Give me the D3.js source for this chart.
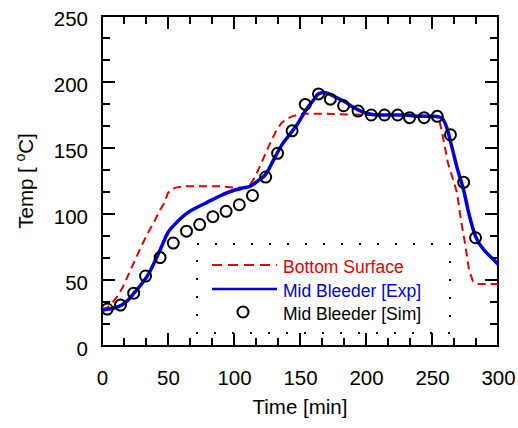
<!DOCTYPE html>
<html>
<head>
<meta charset="utf-8">
<script src="https://cdn.jsdelivr.net/npm/d3@7"></script>
<style>
	body { margin: 0; background: #fff; }
	svg text { font-family: "Liberation Sans", Arial, sans-serif; }
</style>
</head>
<body>
<div id="chart"></div>
<script>
// Bottom Surface (red dashed)
const bottomTime = [0, 4, 8, 12, 16, 20, 25, 30, 35, 40, 44, 47, 50, 53, 56, 62, 70, 80, 90, 100, 108, 112, 116, 120, 124, 128, 132, 136, 140, 144, 148, 152, 158, 170, 200, 230, 255, 258, 262, 266, 269, 272, 275, 278, 281, 285, 290, 300];
const bottomTemp = [28, 29, 33, 38, 45, 54, 65, 76, 86, 95, 103, 108, 116, 119, 120, 121, 121, 121, 121, 120, 120, 122, 128, 137, 146, 155, 163, 169, 172, 174, 175, 176, 176, 176, 175, 175, 174, 160, 139, 126, 116, 95, 78, 58, 49, 47, 47, 47];

// Mid Bleeder [Exp] (blue)
const expTime = [0, 5, 10, 15, 20, 25, 30, 35, 40, 45, 50, 55, 60, 65, 70, 80, 90, 100, 108, 112, 118, 124, 130, 136, 142, 148, 154, 160, 164, 168, 172, 178, 184, 190, 196, 202, 210, 220, 230, 240, 250, 257, 261, 265, 269, 274, 278, 283, 290, 295, 300];
const expTemp = [27, 28, 29, 31, 35, 41, 47, 54, 64, 75, 86, 92, 97, 101, 104, 109, 114, 118, 120, 121, 125, 130, 141, 152, 160, 168, 178, 186, 191, 192, 191, 188, 185, 181, 178, 176, 175, 175, 175, 174, 174, 173, 166, 151, 135, 118, 100, 83, 72, 67, 62];

// Mid Bleeder [Sim] (circles)
const simTime = [4, 14, 24, 33, 44, 54, 64, 74, 84, 94, 104, 114, 124, 133, 144, 154, 164, 173, 183, 194, 204, 214, 224, 233, 244, 254, 264, 274, 283];
const simTemp = [28, 31, 40, 53, 67, 78, 87, 92, 98, 102, 107, 114, 128, 146, 163, 183, 191, 187, 182, 178, 175, 175, 175, 173, 173, 174, 160, 124, 82];

const xTicks = [0, 50, 100, 150, 200, 250, 300];
const yTicks = [0, 50, 100, 150, 200, 250];

const legendLabels = ['Bottom Surface', 'Mid Bleeder [Exp]', 'Mid Bleeder [Sim]'];

const red = '#e60000';
const blue = '#0000dd';

const width = 518, height = 428;
const margin = {top: 16, right: 20, bottom: 82, left: 102};
const w = 498 - margin.left;
const h = 346 - margin.top;

const svg = d3.select('#chart').append('svg')
	.attr('width', width)
	.attr('height', height);

const g = svg.append('g')
	.attr('transform', 'translate(' + margin.left + ',' + margin.top + ')');

const x = d3.scaleLinear().domain([0, 300]).range([0, w]);
const y = d3.scaleLinear().domain([0, 250]).range([h, 0]);

// minor ticks every third of 50
const minorX = d3.range(0, 300.01, 50 / 3).map(v => +v.toFixed(3));
const minorY = d3.range(0, 250.01, 50 / 3).map(v => +v.toFixed(3));
const isMajor = v => Math.abs(v / 50 - Math.round(v / 50)) < 1e-6;

const bigT = 13, smallT = 8;

// tick labels
const xAxisB = d3.axisBottom(x).tickValues(xTicks).tickSize(0).tickPadding(0).tickFormat(d3.format('d'));
const xAxisG = g.append('g').attr('transform', 'translate(0,' + h + ')').call(xAxisB);
xAxisG.select('.domain').remove();
xAxisG.selectAll('text')
	.attr('y', 39)
	.attr('dy', 0)
	.attr('font-size', 20.5)
	.attr('fill', '#000');

const yAxisL = d3.axisLeft(y).tickValues(yTicks).tickSize(0).tickPadding(14).tickFormat(d3.format('d'));
const yAxisG = g.append('g').call(yAxisL);
yAxisG.select('.domain').remove();
yAxisG.selectAll('text')
	.attr('dy', '0.45em')
	.attr('font-size', 20.5)
	.attr('fill', '#000');

// inward ticks on all four sides
const ticks = g.append('g').attr('stroke', '#000').attr('stroke-width', 2);
minorX.forEach(v => {
	const len = isMajor(v) ? bigT : smallT;
	ticks.append('line').attr('x1', x(v)).attr('x2', x(v)).attr('y1', h).attr('y2', h - len);
	ticks.append('line').attr('x1', x(v)).attr('x2', x(v)).attr('y1', 0).attr('y2', len);
});
minorY.forEach(v => {
	const len = isMajor(v) ? bigT : smallT;
	ticks.append('line').attr('y1', y(v)).attr('y2', y(v)).attr('x1', 0).attr('x2', len);
	ticks.append('line').attr('y1', y(v)).attr('y2', y(v)).attr('x1', w).attr('x2', w - len);
});

g.append('rect')
	.attr('width', w)
	.attr('height', h)
	.attr('fill', 'none')
	.attr('stroke', '#000')
	.attr('stroke-width', 2);

// series
const line = d3.line().x(d => x(d[0])).y(d => y(d[1]));
const smooth = d3.line().x(d => x(d[0])).y(d => y(d[1])).curve(d3.curveMonotoneX);

g.append('path')
	.datum(bottomTime.map((t, i) => [t, bottomTemp[i]]))
	.attr('d', line)
	.attr('fill', 'none')
	.attr('stroke', red)
	.attr('stroke-width', 2)
	.attr('stroke-dasharray', '8,5');

g.append('path')
	.datum(expTime.map((t, i) => [t, expTemp[i]]))
	.attr('d', smooth)
	.attr('fill', 'none')
	.attr('stroke', blue)
	.attr('stroke-width', 3.5);

g.selectAll('.sim').data(simTime.map((t, i) => [t, simTemp[i]]))
	.enter().append('circle')
	.attr('class', 'sim')
	.attr('cx', d => x(d[0]))
	.attr('cy', d => y(d[1]))
	.attr('r', 5.5)
	.attr('fill', 'none')
	.attr('stroke', '#000')
	.attr('stroke-width', 2);

// axis titles
svg.append('text')
	.attr('x', margin.left + w / 2)
	.attr('y', 414)
	.attr('text-anchor', 'middle')
	.attr('font-size', 20.5)
	.text('Time [min]');

const yTitle = svg.append('text')
	.attr('transform', 'translate(33,' + (margin.top + h / 2) + ') rotate(-90)')
	.attr('text-anchor', 'middle')
	.attr('font-size', 20.5);
yTitle.append('tspan').text('Temp [ ');
yTitle.append('tspan').attr('font-size', 14).attr('dy', -8).text('o');
yTitle.append('tspan').attr('dy', 8).text('C]');

// legend
const lg = svg.append('g');
lg.append('rect')
	.attr('x', 197).attr('y', 244)
	.attr('width', 253).attr('height', 89)
	.attr('fill', 'none')
	.attr('stroke', '#000')
	.attr('stroke-width', 2)
	.attr('stroke-dasharray', '2,16');

const rowY = [265, 289, 312];
lg.append('line')
	.attr('x1', 212).attr('x2', 277).attr('y1', rowY[0]).attr('y2', rowY[0])
	.attr('stroke', red).attr('stroke-width', 2).attr('stroke-dasharray', '10,6');
lg.append('line')
	.attr('x1', 212).attr('x2', 277).attr('y1', rowY[1]).attr('y2', rowY[1])
	.attr('stroke', blue).attr('stroke-width', 2.5);
lg.append('circle')
	.attr('cx', 243).attr('cy', rowY[2]).attr('r', 5.5)
	.attr('fill', 'none').attr('stroke', '#000').attr('stroke-width', 2);

const legendColors = [red, blue, '#000'];
lg.selectAll('.lt').data(legendLabels)
	.enter().append('text')
	.attr('class', 'lt')
	.attr('x', 283)
	.attr('y', (d, i) => rowY[i] + 8)
	.attr('font-size', 17.5)
	.attr('fill', (d, i) => legendColors[i])
	.text(d => d);
</script>
</body>
</html>
